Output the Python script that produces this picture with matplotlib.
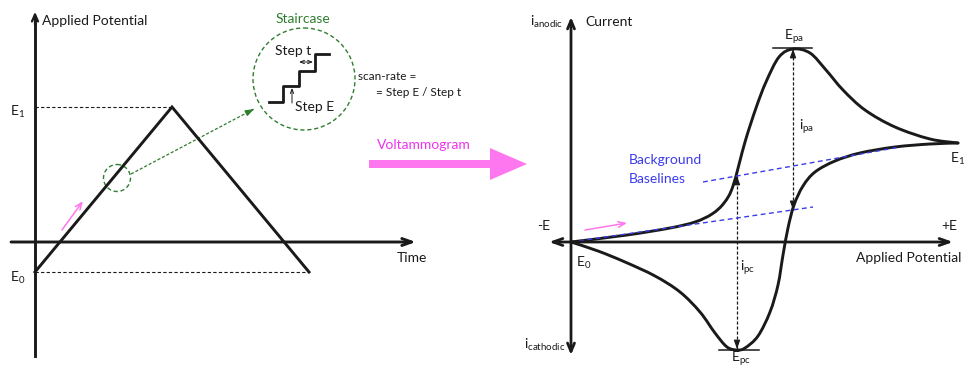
import numpy as np
import matplotlib.pyplot as plt
from matplotlib.path import Path
from matplotlib.patches import PathPatch, Circle, FancyArrow

plt.rcParams['font.family'] = ['Lato', 'DejaVu Sans']
plt.rcParams['mathtext.default'] = 'regular'

# potential ramp (time in s, potential in V)
ramp_t = [0.0, 1.0, 2.0]
ramp_E = [-0.2, 0.9, -0.2]
E0, E1 = -0.2, 0.9

# voltammogram: potential in mV, current in uA
fwd_E = [0, 112, 198, 248, 282, 306, 324, 348, 370, 390, 416, 444, 478, 510,
         544, 588, 648, 718, 774]
fwd_i = [0.0, 0.7, 1.4, 2.0, 2.8, 3.9, 5.6, 10.0, 13.4, 16.0, 18.5, 19.3, 18.9,
         17.2, 15.2, 13.2, 11.5, 10.3, 9.9]
rev_E = [774, 718, 648, 578, 528, 488, 464, 446, 434, 424, 414, 398, 374, 348,
         332, 312, 288, 258, 218, 168, 108, 54, 0]
rev_i = [9.9, 9.8, 9.5, 8.9, 8.1, 7.0, 5.6, 3.7, 1.4, -1.3, -4.3, -7.0, -9.4,
         -10.6, -10.8, -10.5, -9.1, -7.0, -5.0, -3.4, -2.0, -0.9, 0.0]

# peaks
E_pa, i_pa_top = 444, 19.3
E_pc, i_pc_bot = 332, -10.8

# background baselines (start E, start i, end E, end i)
base_low = (0, 0.0, 484, 3.5)
base_high = (264, 6.0, 658, 9.5)

BLACK = '#1a1a1a'
GREEN = '#2f7d2f'
BLUE = '#3b3bea'
PINK = '#ff77ee'
MAGENTA = '#ee33ee'


def smooth_path(xs, ys):
    pts = np.column_stack([xs, ys]).astype(float)
    n = len(pts)
    verts = [pts[0]]
    codes = [Path.MOVETO]
    for k in range(n - 1):
        p0 = pts[k - 1] if k > 0 else pts[k]
        p1, p2 = pts[k], pts[k + 1]
        p3 = pts[k + 2] if k + 2 < n else pts[k + 1]
        verts += [p1 + (p2 - p0) / 6, p2 - (p3 - p1) / 6, p2]
        codes += [Path.CURVE4] * 3
    return Path(verts, codes)


def baseline_at(b, E):
    return b[1] + (E - b[0]) * (b[3] - b[1]) / (b[2] - b[0])


def dashed_arrow(ax, start, end, color, heads='end', lw=0.9):
    ax.plot([start[0], end[0]], [start[1], end[1]], ls=(0, (2.5, 1.5)),
            color=color, lw=lw)
    s, e = np.array(start, float), np.array(end, float)
    d = (e - s) / np.hypot(*(e - s)) if ax is ax0 else (e - s) * 0.04
    ends = [(e, e - d)] if heads == 'end' else [(e, e - d), (s, s + d)]
    for tip, tail in ends:
        ax.annotate('', xy=tip, xytext=tail,
                    arrowprops=dict(arrowstyle='-|>,head_length=0.5,head_width=0.18',
                                    color=color, lw=lw, shrinkA=0, shrinkB=0))


fig = plt.figure(figsize=(9.65, 3.69), dpi=100)

# pixel-space layer for annotations
ax0 = fig.add_axes([0, 0, 1, 1])
ax0.set_xlim(0, 965)
ax0.set_ylim(369, 0)
ax0.axis('off')

# ---- left panel: potential vs time ----
ax1 = fig.add_axes([0, 0, 430 / 965, 1])
ax1.patch.set_alpha(0)
ax1.set_xlim(-35 / 137, 395 / 137)
ax1.set_ylim((242 - 369) / 150, 242 / 150)
ax1.axis('off')

ax1.plot(ramp_t, ramp_E, color=BLACK, lw=2.1, solid_joinstyle='miter')
ax1.plot([0, ramp_t[1]], [E1, E1], color=BLACK, lw=0.8, ls=(0, (3, 2)))
ax1.plot([0, ramp_t[2]], [E0, E0], color=BLACK, lw=0.8, ls=(0, (3, 2)))
ax1.plot([0, 0], [-0.76, 1.5], color=BLACK, lw=2.1)
ax1.annotate('', xy=(0, 1.535), xytext=(0, 1.45),
             arrowprops=dict(arrowstyle='->,head_length=0.5,head_width=0.22',
                             color=BLACK, lw=1.6, shrinkA=0, shrinkB=0))
ax1.annotate('', xy=(2.78, 0), xytext=(-0.175, 0),
             arrowprops=dict(arrowstyle='->,head_length=0.7,head_width=0.25',
                             color=BLACK, lw=2.1, shrinkA=0, shrinkB=0))
ax1.annotate('', xy=(0.35, 0.273), xytext=(0.197, 0.08),
             arrowprops=dict(arrowstyle='->,head_length=0.5,head_width=0.2',
                             color=PINK, lw=1.1, shrinkA=0, shrinkB=0))

ax0.text(42, 21, 'Applied Potential', fontsize=10, va='center', color=BLACK)
ax0.text(397, 258, 'Time', fontsize=10, va='center', color=BLACK)
ax0.text(10, 112, 'E$_1$', fontsize=10, va='center', color=BLACK)
ax0.text(10, 278, 'E$_0$', fontsize=10, va='center', color=BLACK)

# staircase detail
ax0.add_patch(Circle((117, 178), 13.5, fill=False, ec=GREEN, lw=1, ls=(0, (3, 2))))
ax0.add_patch(Circle((304, 79), 51, fill=False, ec=GREEN, lw=1, ls=(0, (3, 2))))
dashed_arrow(ax0, (131, 174), (254, 109), GREEN)
ax0.text(303, 19, 'Staircase', fontsize=10, ha='center', va='center', color=GREEN)
step_x = [269, 283, 299, 315, 329]
step_y = [102, 86, 71, 54, 54]
ax0.step(step_x, step_y, where='post', color=BLACK, lw=2)
ax0.annotate('', xy=(299, 62), xytext=(313, 62),
             arrowprops=dict(arrowstyle='<->,head_length=0.3,head_width=0.12',
                             color=BLACK, lw=0.7, shrinkA=0, shrinkB=0))
ax0.annotate('', xy=(292, 88), xytext=(292, 103),
             arrowprops=dict(arrowstyle='->,head_length=0.3,head_width=0.12',
                             color=BLACK, lw=0.7, shrinkA=0, shrinkB=0))
ax0.text(275, 51, 'Step t', fontsize=10, va='center', color=BLACK)
ax0.text(295, 107, 'Step E', fontsize=10, va='center', color=BLACK)
ax0.text(358, 76, 'scan-rate =', fontsize=8.5, va='center', color=BLACK)
ax0.text(376, 92, '= Step E / Step t', fontsize=8.5, va='center', color=BLACK)

# ---- transition arrow ----
ax0.add_patch(FancyArrow(369, 164, 158, 0, width=8, head_width=32,
                         head_length=37, length_includes_head=True,
                         color=PINK, lw=0))
ax0.text(377, 145, 'Voltammogram', fontsize=10, va='center', color=MAGENTA)

# ---- right panel: voltammogram ----
ax2 = fig.add_axes([500 / 965, 0, 465 / 965, 1])
ax2.patch.set_alpha(0)
ax2.set_xlim(-142, 788)
ax2.set_ylim(-12.7, 24.2)
ax2.axis('off')

ax2.add_patch(PathPatch(smooth_path(fwd_E, fwd_i), fill=False, ec=BLACK, lw=2.1,
                        capstyle='round', zorder=2))
ax2.add_patch(PathPatch(smooth_path(rev_E, rev_i), fill=False, ec=BLACK, lw=2.1,
                        capstyle='round', zorder=2))
for b in (base_low, base_high):
    ax2.plot([b[0], b[2]], [b[1], b[3]], color=BLUE, lw=1, ls=(0, (3.5, 2.5)), zorder=3)

ax2.annotate('', xy=(0, 22.5), xytext=(0, -11.3),
             arrowprops=dict(arrowstyle='<->,head_length=0.6,head_width=0.25',
                             color=BLACK, lw=2, shrinkA=0, shrinkB=0))
ax2.annotate('', xy=(764, 0), xytext=(-44, 0),
             arrowprops=dict(arrowstyle='<->,head_length=0.7,head_width=0.25',
                             color=BLACK, lw=2, shrinkA=0, shrinkB=0))
ax2.annotate('', xy=(112, 1.9), xytext=(28, 1.2),
             arrowprops=dict(arrowstyle='->,head_length=0.5,head_width=0.2',
                             color=PINK, lw=1.1, shrinkA=0, shrinkB=0))

# peak markers
ax2.plot([E_pa - 40, E_pa + 38], [i_pa_top + 0.1] * 2, color=BLACK, lw=1.1)
ax2.plot([E_pc - 36, E_pc + 44], [i_pc_bot] * 2, color=BLACK, lw=1.1)
dashed_arrow(ax2, (E_pa, baseline_at(base_low, E_pa)), (E_pa, i_pa_top), BLACK, heads='both')
dashed_arrow(ax2, (E_pc, baseline_at(base_high, E_pc)), (E_pc, i_pc_bot + 0.1), BLACK, heads='both')

ax0.text(585, 22, 'Current', fontsize=10, va='center', color=BLACK)
ax0.text(530, 22, 'i$_{anodic}$', fontsize=10, va='center', color=BLACK)
ax0.text(524, 345, 'i$_{cathodic}$', fontsize=10, va='center', color=BLACK)
ax0.text(537, 226, '-E', fontsize=10, va='center', color=BLACK)
ax0.text(941, 226, '+E', fontsize=10, va='center', color=BLACK)
ax0.text(856, 258, 'Applied Potential', fontsize=10, va='center', color=BLACK)
ax0.text(576, 263, 'E$_0$', fontsize=10, va='center', color=BLACK)
ax0.text(950, 159, 'E$_1$', fontsize=10, va='center', color=BLACK)
ax0.text(784, 37, 'E$_{pa}$', fontsize=10, va='center', color=BLACK)
ax0.text(731, 359, 'E$_{pc}$', fontsize=10, va='center', color=BLACK)
ax0.text(799, 127, 'i$_{pa}$', fontsize=10, va='center', color=BLACK)
ax0.text(740, 268, 'i$_{pc}$', fontsize=10, va='center', color=BLACK)
ax0.text(629, 160, 'Background', fontsize=10, va='center', color=BLUE)
ax0.text(629, 179, 'Baselines', fontsize=10, va='center', color=BLUE)

fig.savefig('out.png', dpi=100)
